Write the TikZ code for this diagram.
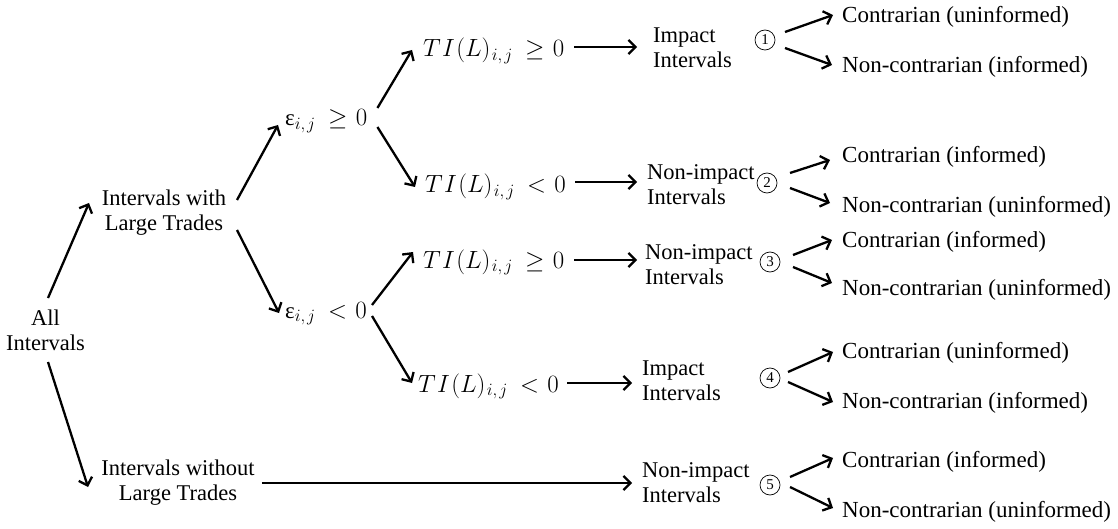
\documentclass[tikz,border=0pt]{standalone}
\usepackage{fontspec}
\setmainfont{Liberation Serif}
\usetikzlibrary{arrows.meta,calc}
\newcommand\myTIL{T\mkern1mu I\mkern1mu (L)\mkern1mu}
\newcommand\myeps{\mbox{ε}}
\newcommand\myij{_{i,\mkern2mu j}}
\newcommand\mygeq{\mskip4mu\geq\mskip1mu}
\newcommand\mylt{\mskip4mu<\mskip1mu}
\tikzset{
  txt/.style={inner sep=0pt, font=\fontsize{22.5}{25}\selectfont, align=center},
  mth/.style={inner sep=0pt, font=\fontsize{23}{25}\selectfont, anchor=base west},
  leaf/.style={inner sep=0pt, font=\fontsize{23}{25}\selectfont, anchor=west},
  circ/.style={draw, circle, line width=0.7pt, minimum size=20pt, inner sep=0pt, font=\fontsize{15}{15}\selectfont},
  arr/.style={line width=2.3pt, -{Straight Barb[length=7pt,width=14pt]}}
}
\begin{document}
\begin{tikzpicture}[x=1pt,y=-1pt]
\useasboundingbox (0,0) rectangle (1118,529);
% first levels
\node[txt] (all) at (45.5,330.5) {All\\Intervals};
\node[txt] (with) at (164,212.5) {Intervals with\\Large Trades};
\node[txt] (without) at (178,482.5) {Intervals without\\Large Trades};
\node[mth] (e1) at (285,126) {$\myeps\myij\mygeq 0$};
\node[mth] (e2) at (285,318) {$\myeps\myij\mylt 0$};
\node[mth] (t1) at (423,57) {$\myTIL\myij\mygeq 0$};
\node[mth] (t2) at (425,193) {$\myTIL\myij\mylt 0$};
\node[mth] (t3) at (423,268) {$\myTIL\myij\mygeq 0$};
\node[mth] (t4) at (418,392) {$\myTIL\myij\mylt 0$};
% interval types
\node[txt,align=left,anchor=west] (i1) at (653,47.5) {Impact\\Intervals};
\node[txt,align=left,anchor=west] (i2) at (647,184.5) {Non-impact\\Intervals};
\node[txt,align=left,anchor=west] (i3) at (645,265) {Non-impact\\Intervals};
\node[txt,align=left,anchor=west] (i4) at (642,381) {Impact\\Intervals};
\node[txt,align=left,anchor=west] (i5) at (642,482.5) {Non-impact\\Intervals};
% circled numbers
\node[circ] (c1) at (765,40) {1};
\node[circ] (c2) at (767,183) {2};
\node[circ] (c3) at (770,262) {3};
\node[circ] (c4) at (770,378) {4};
\node[circ] (c5) at (770,485) {5};
% leaves
\node[leaf] (r1a) at (842,17) {Contrarian (uninformed)};
\node[leaf] (r1b) at (842,67) {Non-contrarian (informed)};
\node[leaf] (r2a) at (842,157) {Contrarian (informed)};
\node[leaf] (r2b) at (842,207) {Non-contrarian (uninformed)};
\node[leaf] (r3a) at (842,242) {Contrarian (informed)};
\node[leaf] (r3b) at (842,290) {Non-contrarian (uninformed)};
\node[leaf] (r4a) at (842,353) {Contrarian (uninformed)};
\node[leaf] (r4b) at (842,403) {Non-contrarian (informed)};
\node[leaf] (r5a) at (842,462) {Contrarian (informed)};
\node[leaf] (r5b) at (842,512) {Non-contrarian (uninformed)};
% tree arrows
\draw[arr] ([shift={(2.5,-32.5)}]all.center) -- ([shift={(-75,-9.5)}]with.center);
\draw[arr] ([shift={(2.5,31.5)}]all.center) -- ([shift={(-90,4.5)}]without.center);
\draw[arr] ([shift={(73,-12.5)}]with.center) -- ([shift={(-7,-1)}]e1.base west);
\draw[arr] ([shift={(73,17.5)}]with.center) -- ([shift={(-6,-5)}]e2.base west);
\draw[arr] ([shift={(10,-18)}]e1.base east) -- ([shift={(-11,-7)}]t1.base west);
\draw[arr] ([shift={(10,1)}]e1.base east) -- ([shift={(-10,-6)}]t2.base west);
\draw[arr] ([shift={(5,-13)}]e2.base east) -- ([shift={(-10,-16)}]t3.base west);
\draw[arr] ([shift={(5,-2)}]e2.base east) -- ([shift={(-6,-9)}]t4.base west);
% horizontal arrows
\draw[arr] ($(t1.base east)+(10,-10)$) -- ($(t1.base east -| i1.west)+(-16,-10)$);
\draw[arr] ($(t2.base east)+(9,-11)$) -- ($(t2.base east -| i2.west)+(-10,-11)$);
\draw[arr] ($(t3.base east)+(10,-8)$) -- ($(t3.base east -| i3.west)+(-8,-8)$);
\draw[arr] ($(t4.base east)+(8,-9)$) -- ($(t4.base east -| i4.west)+(-10,-9)$);
\draw[arr] ($(without.east)+(7,0.5)$) -- ($(without.east -| i5.west)+(-10,0.5)$);
% leaf arrows
\draw[arr] ([shift={(20,-8)}]c1.center) -- ([shift={(-9,-2)}]r1a.west);
\draw[arr] ([shift={(20,8)}]c1.center) -- ([shift={(-10,-2)}]r1b.west);
\draw[arr] ([shift={(23,-10)}]c2.center) -- ([shift={(-12,3)}]r2a.west);
\draw[arr] ([shift={(23,5)}]c2.center) -- ([shift={(-12,-4)}]r2b.west);
\draw[arr] ([shift={(23,-7)}]c3.center) -- ([shift={(-10,-2)}]r3a.west);
\draw[arr] ([shift={(23,5)}]c3.center) -- ([shift={(-10,-7)}]r3b.west);
\draw[arr] ([shift={(18,-6)}]c4.center) -- ([shift={(-9,-1)}]r4a.west);
\draw[arr] ([shift={(18,4)}]c4.center) -- ([shift={(-9,-1)}]r4b.west);
\draw[arr] ([shift={(20,-8)}]c5.center) -- ([shift={(-9,-4)}]r5a.west);
\draw[arr] ([shift={(20,2)}]c5.center) -- ([shift={(-9,-4)}]r5b.west);
\end{tikzpicture}
\end{document}
